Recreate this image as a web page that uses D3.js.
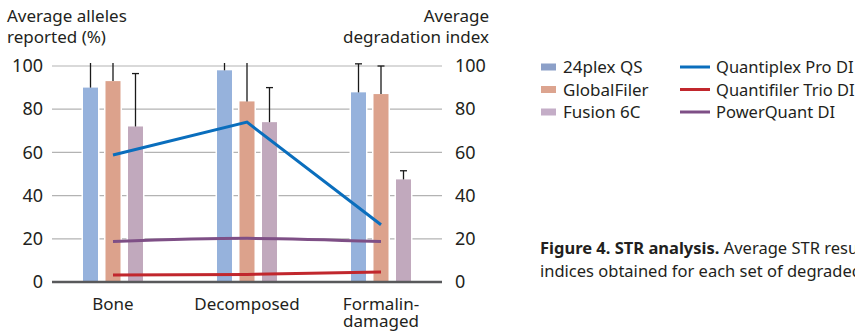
<!DOCTYPE html>
<html>
<head>
<meta charset="utf-8">
<script src="https://cdn.jsdelivr.net/npm/d3@7"></script>
<style>
  body { margin: 0; background: #fff; }
  svg { display: block; font-family: "Noto Sans", sans-serif; }
</style>
</head>
<body>
<div id="chart"></div>
<script>
// data
const categories = ['Bone', 'Decomposed', 'Formalin-\ndamaged'];
const kits = ['24plex QS', 'GlobalFiler', 'Fusion 6C'];
const allelesMean = [
  [90, 93, 72],
  [98, 83.6, 74],
  [87.8, 87, 47.5]
];
const allelesSd = [
  [14, 10, 24.5],
  [4, 20, 16],
  [13.2, 13, 4]
];
const diNames = ['Quantiplex Pro DI', 'Quantifiler Trio DI', 'PowerQuant DI'];
const quantiplexDI = [58.8, 74, 26.5];
const quantifilerDI = [3.2, 3.5, 4.6];
const powerquantDI = [18.7, 20.2, 18.7];
const yTicks = [0, 20, 40, 60, 80, 100];

const barColors = ['#96b2dc', '#dca28c', '#c1a9bd'];
const swatchColors = ['#8ca0c8', '#dca48f', '#c4adc7'];
const lineColors = ['#0a6ebd', '#c1272d', '#7e4f86'];

const width = 855, height = 334;
const ink = '#231f20';

const svg = d3.select('#chart').append('svg')
  .attr('width', width)
  .attr('height', height);

const x0 = d3.scaleBand().domain(categories).range([46, 448]);
const x1 = d3.scaleBand().domain(kits).range([-30, 30]).paddingInner(0.333);
const y = d3.scaleLinear().domain([0, 100]).range([282, 66]);

// gridlines
svg.append('g')
  .selectAll('line')
  .data(yTicks.filter(d => d > 0))
  .join('line')
  .attr('x1', 52).attr('x2', 442)
  .attr('y1', d => y(d)).attr('y2', d => y(d))
  .attr('stroke', '#b3b3b3')
  .attr('stroke-width', 1.2);

// left axis labels
const yLeft = d3.axisLeft(y).tickValues(yTicks).tickSize(0).tickPadding(0);
svg.append('g')
  .attr('transform', 'translate(43,0)')
  .call(yLeft)
  .call(g => g.select('.domain').remove())
  .selectAll('text')
  .attr('font-size', 18)
  .attr('font-family', '"Noto Sans", sans-serif')
  .attr('fill', ink);

// right axis labels
const yRight = d3.axisRight(y).tickValues(yTicks).tickSize(0).tickPadding(0);
svg.append('g')
  .attr('transform', 'translate(455,0)')
  .call(yRight)
  .call(g => g.select('.domain').remove())
  .selectAll('text')
  .attr('font-size', 18)
  .attr('font-family', '"Noto Sans", sans-serif')
  .attr('fill', ink);

// axis titles
const leftTitle = svg.append('text')
  .attr('x', 7).attr('y', 22)
  .attr('font-size', 17).attr('fill', ink);
leftTitle.append('tspan').attr('x', 7).text('Average alleles');
leftTitle.append('tspan').attr('x', 7).attr('dy', 21).text('reported (%)');

const rightTitle = svg.append('text')
  .attr('x', 489).attr('y', 22)
  .attr('text-anchor', 'end')
  .attr('font-size', 17).attr('fill', ink);
rightTitle.append('tspan').attr('x', 489).text('Average');
rightTitle.append('tspan').attr('x', 489).attr('dy', 21).text('degradation index');

// bars
const groups = svg.append('g')
  .selectAll('g')
  .data(categories)
  .join('g')
  .attr('transform', d => `translate(${x0(d) + x0.bandwidth() / 2},0)`);

groups.selectAll('rect')
  .data((d, i) => allelesMean[i].map((v, j) => ({ kit: kits[j], v, j })))
  .join('rect')
  .attr('x', d => x1(d.kit))
  .attr('width', x1.bandwidth())
  .attr('y', d => y(d.v))
  .attr('height', d => y(0) - y(d.v))
  .attr('fill', d => barColors[d.j])
  .attr('stroke', '#fff')
  .attr('stroke-width', 3)
  .attr('paint-order', 'stroke');

// error bars (upper only), clipped at top of plot like the source
svg.append('clipPath').attr('id', 'errclip')
  .append('rect').attr('x', 0).attr('y', 63).attr('width', width).attr('height', 300);

const err = svg.append('g').attr('clip-path', 'url(#errclip)');
categories.forEach((c, i) => {
  kits.forEach((k, j) => {
    const cx = x0(c) + x0.bandwidth() / 2 + x1(k) + x1.bandwidth() / 2;
    const top = y(allelesMean[i][j] + allelesSd[i][j]);
    err.append('line')
      .attr('x1', cx).attr('x2', cx)
      .attr('y1', y(allelesMean[i][j])).attr('y2', top)
      .attr('stroke', '#1a1a1a').attr('stroke-width', 1.3);
    err.append('line')
      .attr('x1', cx - 3.5).attr('x2', cx + 3.5)
      .attr('y1', top).attr('y2', top)
      .attr('stroke', '#1a1a1a').attr('stroke-width', 1.3);
  });
});

// baseline
svg.append('line')
  .attr('x1', 52).attr('x2', 442)
  .attr('y1', y(0)).attr('y2', y(0))
  .attr('stroke', '#58595b')
  .attr('stroke-width', 2.5);

// degradation index lines, anchored at middle bar
const lineX = c => x0(c) + x0.bandwidth() / 2;
const diSeries = [quantiplexDI, quantifilerDI, powerquantDI];
diSeries.forEach((vals, s) => {
  const line = d3.line()
    .x((d, i) => lineX(categories[i]))
    .y(d => y(d))
    .curve(s === 2 ? d3.curveMonotoneX : d3.curveLinear);
  svg.append('path')
    .datum(vals)
    .attr('d', line)
    .attr('fill', 'none')
    .attr('stroke', lineColors[s])
    .attr('stroke-width', 3);
});

// category labels
svg.append('g')
  .selectAll('text')
  .data(categories)
  .join('text')
  .attr('x', d => lineX(d))
  .attr('y', 310)
  .attr('text-anchor', 'middle')
  .attr('font-size', 17)
  .attr('fill', ink)
  .each(function (d) {
    d.split('\n').forEach((part, i) => {
      d3.select(this).append('tspan')
        .attr('x', lineX(d))
        .attr('dy', i === 0 ? 0 : 17)
        .text(part);
    });
  });

// legend
const legend = svg.append('g');
kits.forEach((k, i) => {
  const ly = 67 + i * 22.5;
  legend.append('rect')
    .attr('x', 541).attr('y', ly - 3.5)
    .attr('width', 15).attr('height', 7)
    .attr('fill', swatchColors[i]);
  legend.append('text')
    .attr('x', 563).attr('y', ly + 6)
    .attr('font-size', 17).attr('fill', ink)
    .text(k);
});
diNames.forEach((n, i) => {
  const ly = 67 + i * 22.5;
  legend.append('line')
    .attr('x1', 680).attr('x2', 710)
    .attr('y1', ly).attr('y2', ly)
    .attr('stroke', lineColors[i]).attr('stroke-width', 3);
  legend.append('text')
    .attr('x', 716).attr('y', ly + 6)
    .attr('font-size', 16.5).attr('fill', ink)
    .text(n);
});

// caption (runs off the right edge as in the source)
const cap = svg.append('text')
  .attr('x', 540).attr('y', 254)
  .attr('font-size', 16.5).attr('fill', ink);
cap.append('tspan').attr('font-weight', 'bold').text('Figure 4. STR analysis.');
cap.append('tspan').text(' Average STR results and degradation');
svg.append('text')
  .attr('x', 540).attr('y', 277)
  .attr('font-size', 16.5).attr('fill', ink)
  .text('indices obtained for each set of degraded samples.');
</script>
</body>
</html>
